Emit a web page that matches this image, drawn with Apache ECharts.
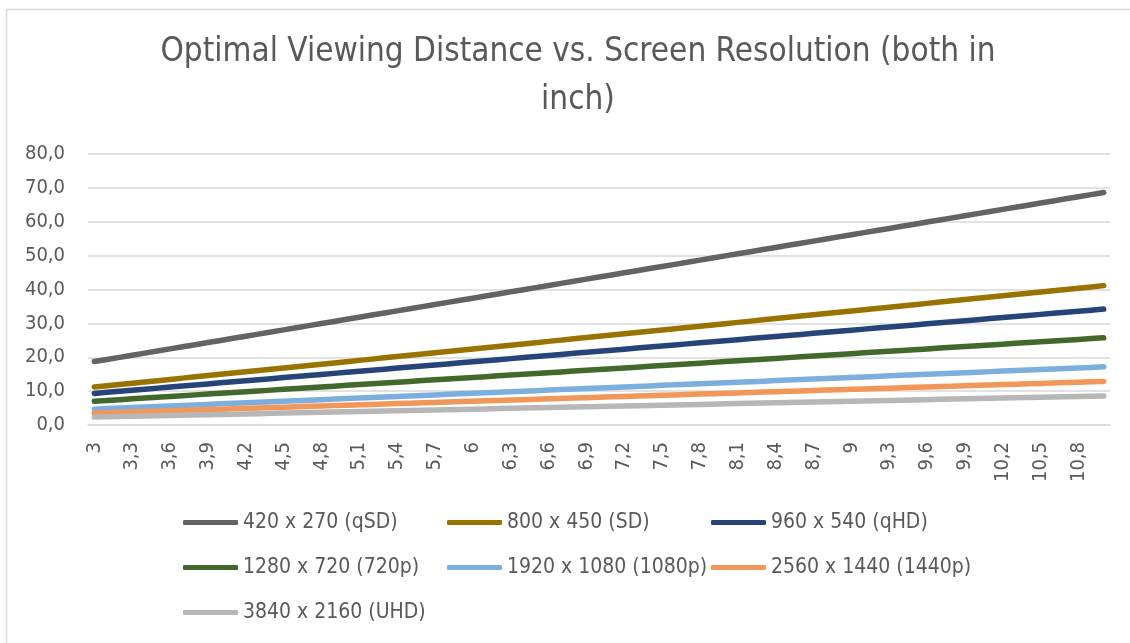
<!DOCTYPE html>
<html>
<head>
    <meta charset="utf-8">
    <title>Optimal Viewing Distance vs. Screen Resolution</title>
    <script src="https://cdn.jsdelivr.net/npm/echarts@6.0.0/dist/echarts.min.js"></script>
    <style>
        html, body { margin: 0; padding: 0; background: #fff; }
        #chart { width: 1130px; height: 643px; }
    </style>
</head>
<body>
<div id="chart"></div>
<script>
    // screen diagonal (inch), comma decimals as in the original
    const sizes = [
        '3', '3,1', '3,2', '3,3', '3,4', '3,5', '3,6', '3,7', '3,8', '3,9',
        '4', '4,1', '4,2', '4,3', '4,4', '4,5', '4,6', '4,7', '4,8', '4,9',
        '5', '5,1', '5,2', '5,3', '5,4', '5,5', '5,6', '5,7', '5,8', '5,9',
        '6', '6,1', '6,2', '6,3', '6,4', '6,5', '6,6', '6,7', '6,8', '6,9',
        '7', '7,1', '7,2', '7,3', '7,4', '7,5', '7,6', '7,7', '7,8', '7,9',
        '8', '8,1', '8,2', '8,3', '8,4', '8,5', '8,6', '8,7', '8,8', '8,9',
        '9', '9,1', '9,2', '9,3', '9,4', '9,5', '9,6', '9,7', '9,8', '9,9',
        '10', '10,1', '10,2', '10,3', '10,4', '10,5', '10,6', '10,7', '10,8', '10,9',
        '11'
    ];

    const seriesNames = [
        '420 x 270 (qSD)', '800 x 450 (SD)', '960 x 540 (qHD)',
        '1280 x 720 (720p)', '1920 x 1080 (1080p)', '2560 x 1440 (1440p)',
        '3840 x 2160 (UHD)'
    ];
    const colors = ['#636363', '#997300', '#264478', '#43682B', '#7CAFDD', '#F1975A', '#B7B7B7'];

    // optimal viewing distance (inch)
    const qsd = [
        18.72, 19.344, 19.968, 20.592, 21.216, 21.84, 22.464, 23.088, 23.712, 24.336,
        24.96, 25.584, 26.208, 26.832, 27.456, 28.08, 28.704, 29.328, 29.952, 30.576,
        31.2, 31.824, 32.448, 33.072, 33.696, 34.32, 34.944, 35.568, 36.192, 36.816,
        37.44, 38.064, 38.688, 39.312, 39.936, 40.56, 41.184, 41.808, 42.432, 43.056,
        43.68, 44.304, 44.928, 45.552, 46.176, 46.8, 47.424, 48.048, 48.672, 49.296,
        49.92, 50.544, 51.168, 51.792, 52.416, 53.04, 53.664, 54.288, 54.912, 55.536,
        56.16, 56.784, 57.408, 58.032, 58.656, 59.28, 59.904, 60.528, 61.152, 61.776,
        62.4, 63.024, 63.648, 64.272, 64.896, 65.52, 66.144, 66.768, 67.392, 68.016,
        68.64
    ];
    const sd = [
        11.22, 11.594, 11.968, 12.342, 12.716, 13.09, 13.464, 13.838, 14.212, 14.586,
        14.96, 15.334, 15.708, 16.082, 16.456, 16.83, 17.204, 17.578, 17.952, 18.326,
        18.7, 19.074, 19.448, 19.822, 20.196, 20.57, 20.944, 21.318, 21.692, 22.066,
        22.44, 22.814, 23.188, 23.562, 23.936, 24.31, 24.684, 25.058, 25.432, 25.806,
        26.18, 26.554, 26.928, 27.302, 27.676, 28.05, 28.424, 28.798, 29.172, 29.546,
        29.92, 30.294, 30.668, 31.042, 31.416, 31.79, 32.164, 32.538, 32.912, 33.286,
        33.66, 34.034, 34.408, 34.782, 35.156, 35.53, 35.904, 36.278, 36.652, 37.026,
        37.4, 37.774, 38.148, 38.522, 38.896, 39.27, 39.644, 40.018, 40.392, 40.766,
        41.14
    ];
    const qhd = [
        9.33, 9.641, 9.952, 10.263, 10.574, 10.885, 11.196, 11.507, 11.818, 12.129,
        12.44, 12.751, 13.062, 13.373, 13.684, 13.995, 14.306, 14.617, 14.928, 15.239,
        15.55, 15.861, 16.172, 16.483, 16.794, 17.105, 17.416, 17.727, 18.038, 18.349,
        18.66, 18.971, 19.282, 19.593, 19.904, 20.215, 20.526, 20.837, 21.148, 21.459,
        21.77, 22.081, 22.392, 22.703, 23.014, 23.325, 23.636, 23.947, 24.258, 24.569,
        24.88, 25.191, 25.502, 25.813, 26.124, 26.435, 26.746, 27.057, 27.368, 27.679,
        27.99, 28.301, 28.612, 28.923, 29.234, 29.545, 29.856, 30.167, 30.478, 30.789,
        31.1, 31.411, 31.722, 32.033, 32.344, 32.655, 32.966, 33.277, 33.588, 33.899,
        34.21
    ];
    const hd720 = [
        7.02, 7.254, 7.488, 7.722, 7.956, 8.19, 8.424, 8.658, 8.892, 9.126,
        9.36, 9.594, 9.828, 10.062, 10.296, 10.53, 10.764, 10.998, 11.232, 11.466,
        11.7, 11.934, 12.168, 12.402, 12.636, 12.87, 13.104, 13.338, 13.572, 13.806,
        14.04, 14.274, 14.508, 14.742, 14.976, 15.21, 15.444, 15.678, 15.912, 16.146,
        16.38, 16.614, 16.848, 17.082, 17.316, 17.55, 17.784, 18.018, 18.252, 18.486,
        18.72, 18.954, 19.188, 19.422, 19.656, 19.89, 20.124, 20.358, 20.592, 20.826,
        21.06, 21.294, 21.528, 21.762, 21.996, 22.23, 22.464, 22.698, 22.932, 23.166,
        23.4, 23.634, 23.868, 24.102, 24.336, 24.57, 24.804, 25.038, 25.272, 25.506,
        25.74
    ];
    const hd1080 = [
        4.68, 4.836, 4.992, 5.148, 5.304, 5.46, 5.616, 5.772, 5.928, 6.084,
        6.24, 6.396, 6.552, 6.708, 6.864, 7.02, 7.176, 7.332, 7.488, 7.644,
        7.8, 7.956, 8.112, 8.268, 8.424, 8.58, 8.736, 8.892, 9.048, 9.204,
        9.36, 9.516, 9.672, 9.828, 9.984, 10.14, 10.296, 10.452, 10.608, 10.764,
        10.92, 11.076, 11.232, 11.388, 11.544, 11.7, 11.856, 12.012, 12.168, 12.324,
        12.48, 12.636, 12.792, 12.948, 13.104, 13.26, 13.416, 13.572, 13.728, 13.884,
        14.04, 14.196, 14.352, 14.508, 14.664, 14.82, 14.976, 15.132, 15.288, 15.444,
        15.6, 15.756, 15.912, 16.068, 16.224, 16.38, 16.536, 16.692, 16.848, 17.004,
        17.16
    ];
    const hd1440 = [
        3.51, 3.627, 3.744, 3.861, 3.978, 4.095, 4.212, 4.329, 4.446, 4.563,
        4.68, 4.797, 4.914, 5.031, 5.148, 5.265, 5.382, 5.499, 5.616, 5.733,
        5.85, 5.967, 6.084, 6.201, 6.318, 6.435, 6.552, 6.669, 6.786, 6.903,
        7.02, 7.137, 7.254, 7.371, 7.488, 7.605, 7.722, 7.839, 7.956, 8.073,
        8.19, 8.307, 8.424, 8.541, 8.658, 8.775, 8.892, 9.009, 9.126, 9.243,
        9.36, 9.477, 9.594, 9.711, 9.828, 9.945, 10.062, 10.179, 10.296, 10.413,
        10.53, 10.647, 10.764, 10.881, 10.998, 11.115, 11.232, 11.349, 11.466, 11.583,
        11.7, 11.817, 11.934, 12.051, 12.168, 12.285, 12.402, 12.519, 12.636, 12.753,
        12.87
    ];
    const uhd = [
        2.34, 2.418, 2.496, 2.574, 2.652, 2.73, 2.808, 2.886, 2.964, 3.042,
        3.12, 3.198, 3.276, 3.354, 3.432, 3.51, 3.588, 3.666, 3.744, 3.822,
        3.9, 3.978, 4.056, 4.134, 4.212, 4.29, 4.368, 4.446, 4.524, 4.602,
        4.68, 4.758, 4.836, 4.914, 4.992, 5.07, 5.148, 5.226, 5.304, 5.382,
        5.46, 5.538, 5.616, 5.694, 5.772, 5.85, 5.928, 6.006, 6.084, 6.162,
        6.24, 6.318, 6.396, 6.474, 6.552, 6.63, 6.708, 6.786, 6.864, 6.942,
        7.02, 7.098, 7.176, 7.254, 7.332, 7.41, 7.488, 7.566, 7.644, 7.722,
        7.8, 7.878, 7.956, 8.034, 8.112, 8.19, 8.268, 8.346, 8.424, 8.502,
        8.58
    ];

    const allValues = [qsd, sd, qhd, hd720, hd1080, hd1440, uhd];

    const font = '"DejaVu Sans Condensed", "Liberation Sans Narrow", Roboto, sans-serif';
    const textColor = '#595959';

    const chart = echarts.init(document.getElementById('chart'));

    // one legend per item so the three columns line up like Excel's legend
    const colLeft = [183, 447, 711];
    const rowMid = [523, 568, 613];
    const legends = seriesNames.map((name, i) => ({
        left: colLeft[i % 3],
        top: rowMid[Math.floor(i / 3)] - 11,
        itemGap: 0,
        itemWidth: 55,
        itemHeight: 5,
        icon: 'roundRect',
        selectedMode: false,
        padding: 0,
        data: [name],
        textStyle: {
            fontFamily: font,
            fontSize: 21,
            color: textColor
        }
    }));

    const option = {
        animation: false,
        backgroundColor: '#fff',
        color: colors,
        title: {
            text: 'Optimal Viewing Distance vs. Screen Resolution (both in\ninch)',
            left: 573,
            top: 23,
            textAlign: 'center',
            textStyle: {
                fontFamily: font,
                fontSize: 33,
                fontWeight: 'normal',
                color: textColor,
                lineHeight: 48
            }
        },
        legend: legends,
        grid: {
            left: 88,
            right: 20,
            top: 154,
            bottom: 218,
            containLabel: false
        },
        xAxis: {
            type: 'category',
            data: sizes,
            boundaryGap: true,
            axisLine: { show: true, lineStyle: { color: '#D9D9D9', width: 1.5 } },
            axisTick: { show: false },
            axisLabel: {
                interval: 2,
                rotate: 90,
                margin: 17,
                fontFamily: font,
                fontSize: 20,
                color: textColor
            },
            splitLine: { show: false }
        },
        yAxis: {
            type: 'value',
            min: 0,
            max: 80,
            interval: 10,
            axisLine: { show: false },
            axisTick: { show: false },
            axisLabel: {
                margin: 23,
                fontFamily: font,
                fontSize: 20,
                color: textColor,
                formatter: v => v.toFixed(1).replace('.', ',')
            },
            splitLine: { lineStyle: { color: '#D9D9D9', width: 1.5 } }
        },
        graphic: [{
            type: 'rect',
            shape: { x: 6.5, y: 9.5, width: 1200, height: 700 },
            style: { fill: 'none', stroke: '#D9D9D9', lineWidth: 1.5 },
            silent: true,
            z: -1
        }],
        series: seriesNames.map((name, i) => ({
            name: name,
            type: 'line',
            data: allValues[i],
            symbol: 'none',
            lineStyle: { width: 5.5, cap: 'round', join: 'round', color: colors[i] },
            itemStyle: { color: colors[i] }
        }))
    };

    chart.setOption(option);
</script>
</body>
</html>
